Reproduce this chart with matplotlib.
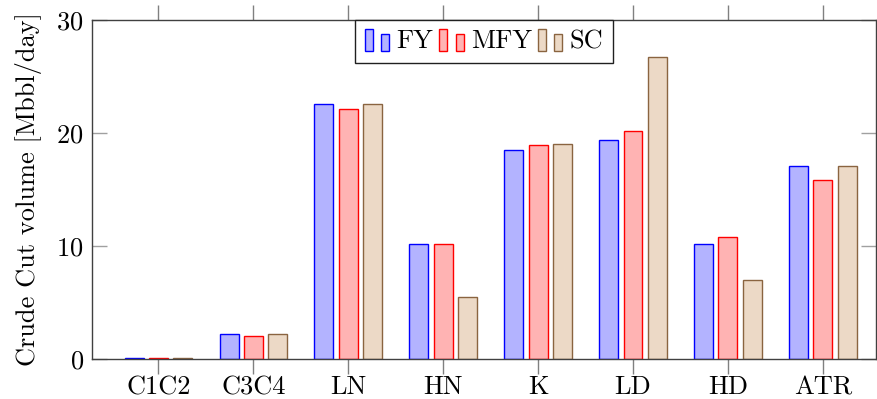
import numpy as np
import matplotlib
matplotlib.use('Agg')
import matplotlib.pyplot as plt
from matplotlib.patches import Rectangle
from matplotlib.legend_handler import HandlerBase

plt.rcParams['font.family'] = 'cmr10'
plt.rcParams['mathtext.fontset'] = 'cm'
plt.rcParams['axes.formatter.use_mathtext'] = True

cuts = ['C1C2', 'C3C4', 'LN', 'HN', 'K', 'LD', 'HD', 'ATR']
fy = [0.05, 2.19, 22.53, 10.19, 18.51, 19.37, 10.19, 17.07]
mfy = [0.05, 2.07, 22.09, 10.19, 18.90, 20.14, 10.81, 15.83]
sc = [0.05, 2.19, 22.53, 5.49, 19.05, 26.75, 7.03, 17.07]

series = [
    ('FY', fy, '#b3b3ff', '#0000ff'),
    ('MFY', mfy, '#ffb3b3', '#ff0000'),
    ('SC', sc, '#ecd9c6', '#8a6440'),
]

FS = 19


class TwoBars(HandlerBase):
    # pgfplots style ybar legend image: two small bars
    def create_artists(self, legend, orig_handle, xdescent, ydescent,
                       width, height, fontsize, trans):
        fc = orig_handle.get_facecolor()
        ec = orig_handle.get_edgecolor()
        w = width * 0.33
        base = -ydescent - 0.12 * height
        r1 = Rectangle((-xdescent, base), w, height * 1.15,
                       facecolor=fc, edgecolor=ec, lw=1.0, transform=trans)
        r2 = Rectangle((-xdescent + width * 0.67, base), w, height * 0.88,
                       facecolor=fc, edgecolor=ec, lw=1.0, transform=trans)
        return [r1, r2]


fig = plt.figure(figsize=(8.78, 3.99), dpi=100)
ax = fig.add_axes([0.1048, 0.1003, 0.8929, 0.8496])

x = np.arange(len(cuts))
offs = [-0.256, 0.0, 0.256]
handles = []
for (name, vals, fc, ec), off in zip(series, offs):
    b = ax.bar(x + off, vals, width=0.2, facecolor=fc, edgecolor=ec, linewidth=1.0,
               label=name, zorder=2)
    handles.append(b.patches[0])

ax.set_xlim(-0.70, 7.56)
ax.set_ylim(0, 30)
ax.set_yticks([0, 10, 20, 30])
ax.set_xticks(x)
ax.set_xticklabels(cuts)
ax.set_ylabel('Crude Cut volume [Mbbl/day]', fontsize=FS, labelpad=10)

for s in ax.spines.values():
    s.set_color('#404040')
    s.set_linewidth(1.0)

ax.tick_params(axis='y', direction='in', left=True, right=True, length=11,
               width=1.0, color='#a0a0a0', labelsize=FS, pad=6)
ax.tick_params(axis='x', direction='out', bottom=True, top=True, length=11,
               width=1.0, color='#808080', labelsize=FS, pad=1)

leg = ax.legend(handles, [s[0] for s in series], loc='upper center',
                bbox_to_anchor=(0.5, 1.0), ncol=3, fontsize=FS,
                handler_map={Rectangle: TwoBars()}, handlelength=0.92,
                handletextpad=0.27, columnspacing=0.23, borderpad=0.37,
                fancybox=False, framealpha=1.0, edgecolor='#202020',
                borderaxespad=0.0)
leg.get_frame().set_linewidth(1.0)

fig.savefig('out.png', dpi=100)
